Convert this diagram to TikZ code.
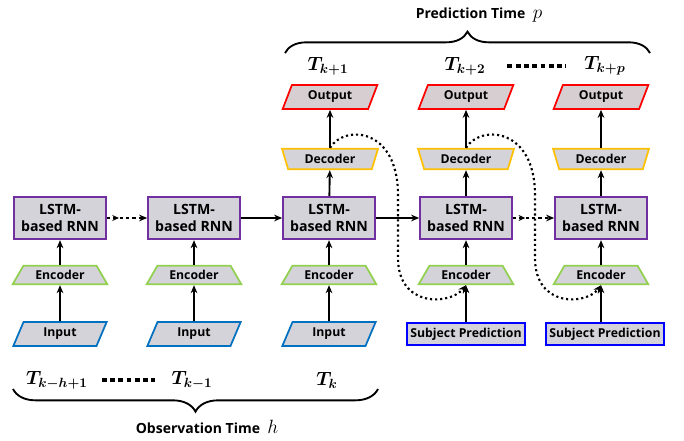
\documentclass[tikz,border=0pt]{standalone}
\usepackage{fontspec}
\setsansfont{Open Sans}
\usepackage{amsmath,bm}
\usetikzlibrary{shapes,positioning,arrows,arrows.meta,calc,decorations.pathreplacing,decorations.markings}
\usepackage{xcolor}

\definecolor{boxgray}{RGB}{212,211,217}
\definecolor{outgray}{RGB}{215,206,210}
\definecolor{lstmpurple}{RGB}{112,48,160}
\definecolor{encgreen}{RGB}{146,208,80}
\definecolor{inblue}{RGB}{0,112,192}
\definecolor{decgold}{RGB}{255,192,0}
\definecolor{subjblue}{RGB}{0,0,255}

\tikzset{
  lstm/.style={rectangle,draw=lstmpurple,fill=boxgray,line width=1.3pt,minimum width=69pt,minimum height=32pt,align=center,inner sep=1pt,font=\sffamily\bfseries\fontsize{10.6}{12.6}\selectfont},
  enc/.style={trapezium,trapezium left angle=45,trapezium right angle=45,trapezium stretches body=true,draw=encgreen,fill=boxgray,line width=1.3pt,minimum width=71pt,minimum height=14pt,inner sep=0.5pt},
  dec/.style={trapezium,trapezium left angle=60,trapezium right angle=60,shape border rotate=180,trapezium stretches body=true,draw=decgold,fill=boxgray,line width=1.3pt,minimum width=72pt,minimum height=15.5pt,inner sep=0.5pt},
  outp/.style={trapezium,trapezium left angle=55,trapezium right angle=125,trapezium stretches body=true,draw=red,fill=outgray,line width=1.3pt,minimum width=71pt,minimum height=18pt,inner sep=0.5pt},
  inp/.style={trapezium,trapezium left angle=52,trapezium right angle=128,trapezium stretches body=true,draw=inblue,fill=boxgray,line width=1.3pt,minimum width=70pt,minimum height=18pt,inner sep=0.5pt},
  subj/.style={rectangle,draw=subjblue,fill=boxgray,line width=1.3pt,minimum width=89pt,minimum height=17pt,inner sep=1pt},
  flow/.style={->,line width=1.4pt},
  dotflow/.style={->,line width=1.4pt,dash pattern=on 2.4pt off 2.4pt,
    postaction={decorate,decoration={markings,mark=at position 0.3 with {\arrow{Stealth[length=5pt,width=4.5pt]}}}}},
  loopback/.style={->,line width=1.6pt,dash pattern=on 1.6pt off 2.2pt},
  tdots/.style={line width=3pt,dash pattern=on 3.6pt off 2.6pt},
  tlabel/.style={font=\fontsize{14}{16}\selectfont}
}

\begin{document}
\begin{tikzpicture}[x=0.75pt,y=-0.75pt,font=\sffamily\bfseries\fontsize{9.2}{11}\selectfont]
  \useasboundingbox (0,0) rectangle (684,441);
  \begin{scope}[>={Stealth[length=6pt,width=5pt]}]
    % outputs
    \node (out3) at (330,97) [outp]{Output};
    \node (out4) at (466,97) [outp]{Output};
    \node (out5) at (601,97) [outp]{Output};
    % decoders
    \node (dec3) at (330,159) [dec]{Decoder};
    \node (dec4) at (466,159) [dec]{Decoder};
    \node (dec5) at (601,159) [dec]{Decoder};
    % recurrent cells
    \node (l1) at (60,218) [lstm]{LSTM-\\based RNN};
    \node (l2) at (194,218) [lstm]{LSTM-\\based RNN};
    \node (l3) at (329,218) [lstm]{LSTM-\\based RNN};
    \node (l4) at (466,218) [lstm]{LSTM-\\based RNN};
    \node (l5) at (601,218) [lstm]{LSTM-\\based RNN};
    % encoders
    \node (enc1) at (60,275) [enc]{Encoder};
    \node (enc2) at (194,275) [enc]{Encoder};
    \node (enc3) at (329,275) [enc]{Encoder};
    \node (enc4) at (466,275) [enc]{Encoder};
    \node (enc5) at (601,275) [enc]{Encoder};
    % inputs
    \node (in1) at (60,334) [inp]{Input};
    \node (in2) at (194,334) [inp]{Input};
    \node (in3) at (329,334) [inp]{Input};
    \node (sp4) at (466,334) [subj]{Subject Prediction};
    \node (sp5) at (605,334) [subj]{Subject Prediction};

    % time steps
    \node (tkh) at (57,380) [tlabel]{$\bm{T_{k-h+1}}$};
    \node (tkm) at (192,380) [tlabel]{$\bm{T_{k-1}}$};
    \node (tk) at (327,380) [tlabel]{$\bm{T_{k}}$};
    \node (tk1) at (328,66) [tlabel]{$\bm{T_{k+1}}$};
    \node (tk2) at (465,66) [tlabel]{$\bm{T_{k+2}}$};
    \node (tkp) at (605,66) [tlabel]{$\bm{T_{k+p}}$};
    \draw[tdots] ([xshift=7pt]tkh.east) -- ([xshift=-9pt]tkm.west);
    \draw[tdots] ([xshift=13pt]tk2.east) -- ([xshift=-10pt]tkp.west);

    % vertical flow
    \foreach \i in {1,2,3}{
      \draw[flow] (in\i) -- (enc\i);
    }
    \foreach \i in {4,5}{
      \draw[flow] (sp\i.north -| enc\i) -- (enc\i);
    }
    \foreach \i in {1,...,5}{
      \draw[flow] (enc\i) -- (l\i);
    }
    \foreach \i in {3,4,5}{
      \draw[flow] (l\i) -- (dec\i);
      \draw[flow] (dec\i) -- (out\i);
    }

    % horizontal flow
    \draw[dotflow] (l1) -- (l2);
    \draw[flow] (l2) -- (l3);
    \draw[flow] (l3) -- (l4);
    \draw[dotflow] (l4) -- (l5);

    % feedback of predictions
    \draw[loopback] (dec3.north) .. controls (345,124) and (398,128) .. (398,195)
      -- (398,258) .. controls (398,308) and (450,305) .. (enc4.south);
    \draw[loopback] (dec4.north) .. controls (481,124) and (535,128) .. (535,195)
      -- (535,258) .. controls (535,308) and (586,305) .. (enc5.south);

    % braces
    \draw[line width=1.4pt,decorate,decoration={brace,amplitude=16pt}] (285,53) -- (650,53);
    \draw[line width=1.4pt,decorate,decoration={brace,amplitude=17pt,mirror}] (13,389) -- (378,389);
    \node (pred) at (479,15) {\fontsize{10.5}{12}\selectfont Prediction Time\ \ {\Large$p$}};
    \node (obs) at (207,427) {\fontsize{10.5}{12}\selectfont Observation Time\ \ {\Large$h$}};
  \end{scope}
\end{tikzpicture}
\end{document}
